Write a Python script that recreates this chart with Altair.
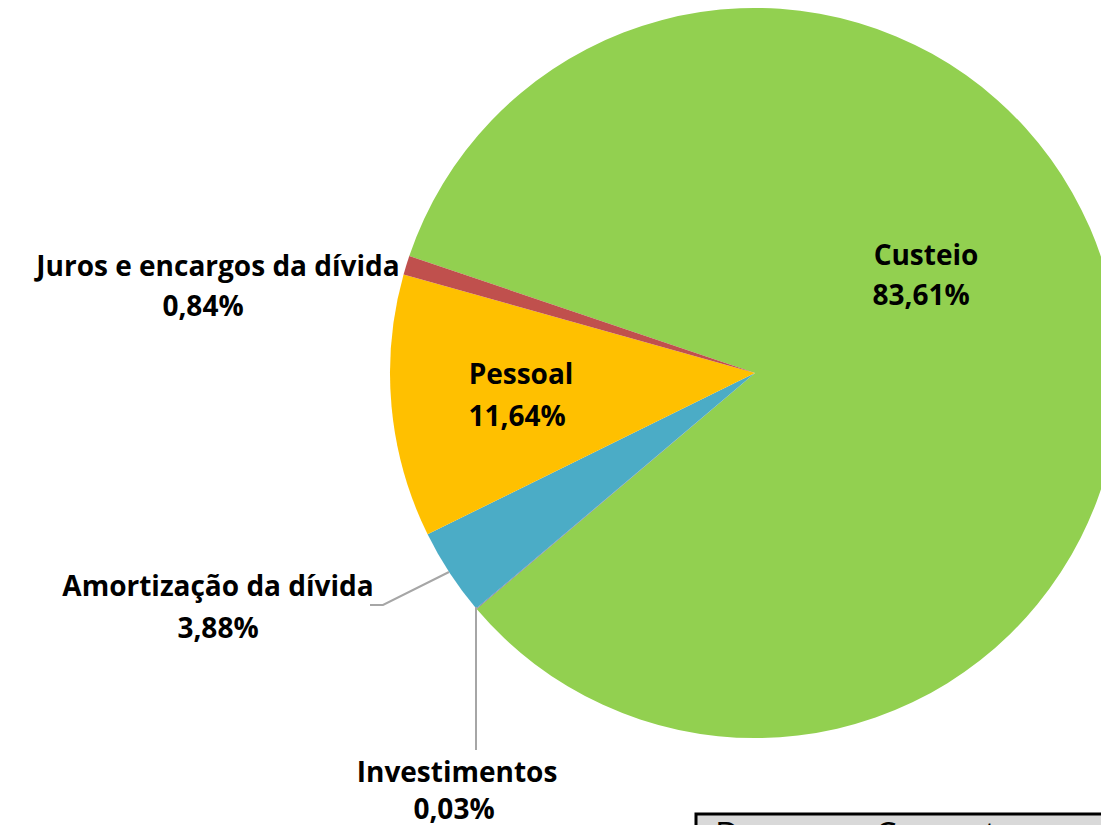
import altair as alt
import pandas as pd
import math

# ---- data ----
categories = ["Custeio", "Investimentos", "Amortização da dívida", "Pessoal", "Juros e encargos da dívida"]
values = [83.61, 0.03, 3.88, 11.64, 0.84]
colors = ["#92D050", "#8064A2", "#4BACC6", "#FFC000", "#C0504D"]

# label anchor positions (chart coords), line1 / line2
label_x = [918, 449, 210, 513, 210]
label_y1 = [249, 766, 580, 368, 260]
label_x2 = [913, 446, 210, 509, 195]
label_y2 = [289, 803, 622, 410, 300]

def pct(v):
    return f"{v:.2f}".replace(".", ",") + "%"

df = pd.DataFrame({
    "cat": categories,
    "value": values,
    "ord": list(range(len(categories))),
})

lab = pd.DataFrame({
    "cat": categories,
    "pct": [pct(v) for v in values],
    "x1": label_x, "y1": label_y1, "x2": label_x2, "y2": label_y2,
})

start = math.radians(288.7)
cx, cy, R = 747, 365, 365
FONT = "Open Sans"
FS = 28

pie = alt.Chart(df).mark_arc(outerRadius=R).encode(
    theta=alt.Theta("value:Q", stack=True,
                    scale=alt.Scale(domain=[0, 100], range=[start, start + 2 * math.pi])),
    color=alt.Color("cat:N", scale=alt.Scale(domain=categories, range=colors), legend=None),
    order=alt.Order("ord:Q"),
    x=alt.value(cx), y=alt.value(cy),
)

t1 = alt.Chart(lab).mark_text(font=FONT, fontSize=FS, fontWeight="bold", color="black",
                              align="center", baseline="middle").encode(
    x=alt.X("x1:Q", scale=None), y=alt.Y("y1:Q", scale=None), text="cat:N")
t2 = alt.Chart(lab).mark_text(font=FONT, fontSize=FS, fontWeight="bold", color="black",
                              align="center", baseline="middle").encode(
    x=alt.X("x2:Q", scale=None), y=alt.Y("y2:Q", scale=None), text="pct:N")

# leader lines
lead = pd.DataFrame({
    "x": [362, 375, 441, 468, 468],
    "y": [597, 597, 564, 599, 742],
    "g": ["a", "a", "a", "b", "b"],
    "o": [0, 1, 2, 0, 1],
})
leaders = alt.Chart(lead).mark_line(color="#A6A6A6", strokeWidth=2).encode(
    x=alt.X("x:Q", scale=None), y=alt.Y("y:Q", scale=None),
    detail="g:N", order="o:Q")

# partially visible box at bottom right
box = alt.Chart(pd.DataFrame({"a": [0]})).mark_rect(
    fill="#D9D9D9", stroke="black", strokeWidth=3).encode(
    x=alt.value(688), x2=alt.value(1140), y=alt.value(806), y2=alt.value(880))
boxtext = alt.Chart(pd.DataFrame({"t": ["Despesas Correntes"]})).mark_text(
    font=FONT, fontSize=34, color="black", align="left", baseline="top").encode(
    x=alt.value(707), y=alt.value(812), text="t:N")

chart = alt.layer(pie, leaders, t1, t2, box, boxtext).properties(
    width=1093, height=817,
    autosize=alt.AutoSizeParams(type="none"),
    padding=0,
).configure_view(stroke=None)

chart.save("out.html", embed_options={"renderer": "svg", "actions": False})
